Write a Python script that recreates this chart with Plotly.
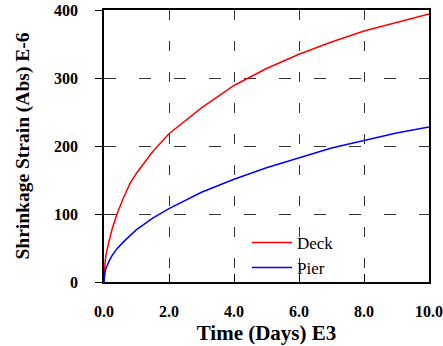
import plotly.graph_objects as go

time_e3 = [0, 0.01, 0.03, 0.06, 0.1, 0.15, 0.25, 0.4, 0.6, 0.8, 1.0, 1.5, 2, 3, 4, 5, 6, 7, 8, 9, 10]
deck = [0, 14, 27, 40, 50, 59, 78, 100, 124, 145, 160, 192, 218, 256, 289, 314, 335, 353, 369, 382, 394]
pier = [0, 8, 14, 20, 25, 30, 39, 49, 59, 68, 77, 94, 108, 132, 151, 168, 183, 197, 208, 219, 228]

x_ticks = [0, 2, 4, 6, 8, 10]
x_labels = ["0.0", "2.0", "4.0", "6.0", "8.0", "10.0"]
y_ticks = [0, 100, 200, 300, 400]
y_labels = ["0", "100", "200", "300", "400"]

serif = "Liberation Serif"

fig = go.Figure()
fig.add_trace(go.Scatter(x=time_e3, y=deck, mode="lines", name="Deck",
                         line=dict(color="#ff0000", width=1.5)))
fig.add_trace(go.Scatter(x=time_e3, y=pier, mode="lines", name="Pier",
                         line=dict(color="#0000ff", width=1.5)))

fig.update_layout(
    width=443, height=346,
    margin=dict(l=104, r=14, t=10, b=64),
    paper_bgcolor="white", plot_bgcolor="white",
    font=dict(family=serif, color="black"),
    legend=dict(x=0.44, y=0.21, xanchor="left", yanchor="top",
                bgcolor="rgba(0,0,0,0)", font=dict(family=serif, size=17),
                tracegroupgap=0, itemwidth=40),
    showlegend=True,
)
fig.update_xaxes(
    range=[0, 10], tickvals=x_ticks, ticktext=x_labels, automargin=False,
    showline=True, linecolor="black", linewidth=1.5, mirror=True,
    ticks="inside", ticklen=8, tickcolor="black", tickwidth=1,
    showgrid=True, gridcolor="#333", gridwidth=1, griddash="10px,21px",
    zeroline=False,
    tickfont=dict(family=serif, size=16, color="black", weight="bold"),
    ticklabelstandoff=14,
    title=dict(text="<b>Time (Days) E3</b>", font=dict(family=serif, size=21), standoff=6),
)
fig.update_yaxes(
    range=[0, 400], tickvals=y_ticks, ticktext=y_labels, automargin=False,
    showline=True, linecolor="black", linewidth=1.5, mirror=True,
    ticks="outside", ticklen=7, tickcolor="black", tickwidth=1,
    showgrid=True, gridcolor="#333", gridwidth=1, griddash="12px,23px",
    zeroline=False,
    tickfont=dict(family=serif, size=16, color="black", weight="bold"),
    ticklabelstandoff=14,
    title=dict(text="<b>Shrinkage Strain (Abs) E-6</b>", font=dict(family=serif, size=19.5), standoff=19),
)

fig.write_html("out.html")
